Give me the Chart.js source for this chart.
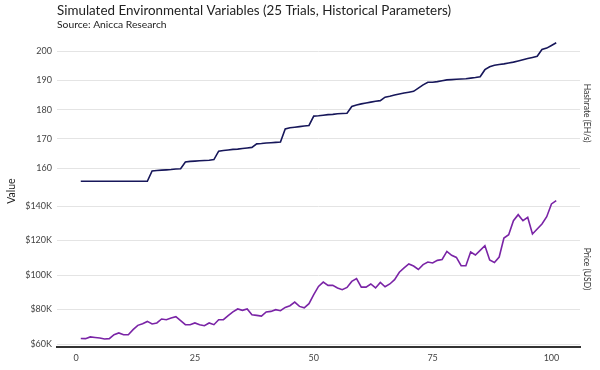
<!DOCTYPE html>
<html>
<head>
<meta charset="utf-8">
<script src="https://cdn.jsdelivr.net/npm/chart.js@4.4.1/dist/chart.umd.min.js"></script>
<style>html,body{margin:0;padding:0;background:#fff}canvas{display:block}</style>
</head>
<body>
<canvas id="c" width="600" height="370"></canvas>
<script>
const chartTitle = 'Simulated Environmental Variables (25 Trials, Historical Parameters)';
const chartSubtitle = 'Source: Anicca Research';
const yAxisTitle = 'Value';
const seriesNames = ['Hashrate (EH/s)', 'Price (USD)'];

const hashrate = [
  155.5,155.5,155.5,155.5,155.5,155.5,155.5,155.5,155.5,155.5,155.5,155.5,155.5,155.5,155.5,
  159.0,159.2,159.3,159.4,159.5,159.7,159.8,
  162.1,162.3,162.4,162.5,162.6,162.7,162.9,
  165.8,166.0,166.2,166.4,166.5,166.7,166.9,167.1,
  168.3,168.4,168.6,168.7,168.8,168.9,
  173.4,173.8,174.0,174.2,174.4,174.6,
  177.8,177.9,178.1,178.3,178.4,178.6,178.7,178.8,
  181.1,181.6,182.0,182.3,182.6,182.9,183.1,
  184.3,184.6,185.0,185.4,185.7,186.0,186.3,
  187.4,188.5,189.4,189.4,189.6,189.9,190.2,
  190.3,190.4,190.5,190.6,190.8,191.0,191.3,
  193.7,194.7,195.2,195.5,195.7,196.0,196.3,
  196.7,197.1,197.5,197.9,198.3,
  200.6,201.1,202.0,202.9
];

const priceUSD = [
  63200,63100,64100,63800,63500,62900,63100,65400,66400,65400,
  65400,68300,70800,71800,73100,71600,72200,74500,74100,75100,
  75800,73500,71200,71200,72200,71200,70600,72200,71200,74100,
  74100,76400,78600,80300,79500,80300,77000,76600,76200,78600,
  78900,79900,79300,81200,82200,84300,81800,81000,83400,88600,
  93400,95900,94000,94000,92500,91500,92800,96300,97900,93000,
  93000,94800,92500,95700,93200,94800,97300,101600,104100,106400,
  105200,103200,106000,107500,107000,108500,109000,113700,111400,110200,
  105400,105400,113300,111600,114300,117000,108700,107300,110400,121400,
  123400,131500,135000,131500,133400,123800,126700,129600,133800,141200,
  143100
];

const steps = hashrate.map((_, i) => i + 1);
const xTicks = [0, 25, 50, 75, 100];
const hashTicks = [160, 170, 180, 190, 200];
const priceTicks = [60000, 80000, 100000, 120000, 140000];

const FONT = 'Lato, "Open Sans", sans-serif';
const GRID = '#e4e4e4';
const TICK = '#444444';

const extraLabels = {
  id: 'extraLabels',
  afterDraw(chart) {
    const {ctx, chartArea, scales} = chart;
    ctx.save();
    ctx.fillStyle = '#222';
    ctx.font = '10.5px ' + FONT;
    ctx.textAlign = 'center';
    ctx.textBaseline = 'middle';
    ctx.translate(12, (chartArea.top + chartArea.bottom) / 2);
    ctx.rotate(-Math.PI / 2);
    ctx.fillText(yAxisTitle, 0, 0);
    ctx.restore();
    const strips = [[scales.yTop, seriesNames[0]], [scales.yBot, seriesNames[1]]];
    for (const [s, text] of strips) {
      ctx.save();
      ctx.fillStyle = '#333';
      ctx.font = '8.5px ' + FONT;
      ctx.textAlign = 'center';
      ctx.textBaseline = 'middle';
      ctx.translate(chartArea.right + 7, (s.top + s.bottom) / 2);
      ctx.rotate(Math.PI / 2);
      ctx.fillText(text, 0, 0);
      ctx.restore();
    }
  }
};

new Chart(document.getElementById('c'), {
  type: 'line',
  data: {
    datasets: [
      {
        label: seriesNames[0],
        data: steps.map((s, i) => ({x: s, y: hashrate[i]})),
        yAxisID: 'yTop',
        borderColor: '#17175a',
        borderWidth: 1.6,
        pointRadius: 0,
        tension: 0
      },
      {
        label: seriesNames[1],
        data: steps.map((s, i) => ({x: s, y: priceUSD[i]})),
        yAxisID: 'yBot',
        borderColor: '#7a24a6',
        borderWidth: 1.6,
        pointRadius: 0,
        tension: 0
      }
    ]
  },
  options: {
    responsive: false,
    animation: false,
    devicePixelRatio: 1,
    layout: {padding: {left: 0, right: 20, top: 0, bottom: 0}},
    plugins: {
      legend: {display: false},
      tooltip: {enabled: false},
      title: {
        display: true, text: chartTitle, align: 'start', fullSize: false,
        color: '#222', font: {family: FONT, size: 13.4, weight: 'normal'},
        padding: {top: 2.5, bottom: 0}
      },
      subtitle: {
        display: true, text: chartSubtitle, align: 'start', fullSize: false,
        color: '#222', font: {family: FONT, size: 10.3, weight: 'normal'},
        padding: {top: 0, bottom: 4.26}
      }
    },
    scales: {
      x: {
        type: 'linear', position: 'bottom', min: -4, max: 106,
        afterBuildTicks: s => { s.ticks = xTicks.map(v => ({value: v})); },
        afterFit: s => { s.height = 23.1; },
        grid: {display: false, drawTicks: false},
        border: {display: true, color: '#333', width: 2},
        ticks: {color: TICK, font: {family: FONT, size: 9}, padding: 6, maxRotation: 0}
      },
      yTop: {
        type: 'linear', position: 'left', stack: 'panels', stackWeight: 1, weight: 2,
        min: 152.14, max: 205.51,
        afterBuildTicks: s => { s.ticks = hashTicks.map(v => ({value: v})); },
        afterFit: s => { s.width = 57; },
        grid: {color: GRID, lineWidth: 1, drawTicks: false},
        border: {display: false},
        ticks: {color: TICK, font: {family: FONT, size: 9}, padding: 5}
      },
      yBot: {
        type: 'linear', position: 'left', stack: 'panels', stackWeight: 1, weight: 1,
        min: 58320, max: 148670,
        afterBuildTicks: s => { s.ticks = priceTicks.map(v => ({value: v})); },
        afterFit: s => { s.width = 57; },
        grid: {color: GRID, lineWidth: 1, drawTicks: false},
        border: {display: false},
        ticks: {
          color: TICK, font: {family: FONT, size: 9}, padding: 5,
          callback: v => '$' + Math.round(v / 1000) + 'K'
        }
      }
    }
  },
  plugins: [extraLabels]
});
</script>
</body>
</html>
